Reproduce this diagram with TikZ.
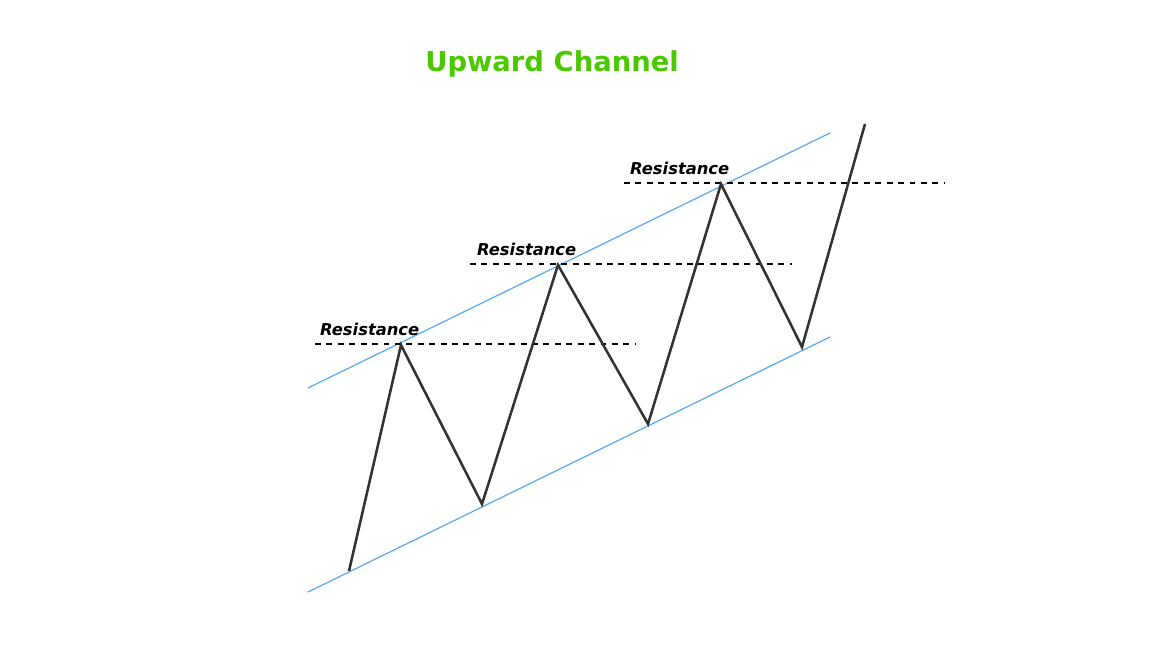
\documentclass[tikz,border=0pt]{standalone}
\usepackage{fontspec}
\setmainfont{DejaVu Sans}
\usepackage{tikz}
\definecolor{titlegreen}{HTML}{4BC800}
\definecolor{chanblue}{HTML}{5AAAEE}
\definecolor{pricegray}{HTML}{333333}
\tikzset{chan/.style={chanblue,line width=0.7pt},
  price/.style={pricegray,line width=1.45pt,line join=miter},
  resline/.style={black,line width=0.6pt,dash pattern=on 3.4pt off 3.1pt},
  reslabel/.style={anchor=south west,inner sep=1pt,font=\fontsize{9.3}{11}\selectfont\bfseries\itshape}}

\begin{document}
\begin{tikzpicture}[x=0.02cm,y=-0.02cm]
\useasboundingbox (0,0) rectangle (1150,651);
\node (title) at (552,64) {\fontsize{15.6}{18}\selectfont\bfseries\color{titlegreen}Upward Channel};
% channel
\coordinate (u1) at (308,388); \coordinate (u2) at (830,133);
\coordinate (l1) at (308,592); \coordinate (l2) at (830,337);
\draw[chan] (u1) -- (u2);
\draw[chan] (l1) -- (l2);
% resistance levels
\coordinate (r1a) at (315,344); \coordinate (r1b) at (636,344);
\coordinate (r2a) at (470,264); \coordinate (r2b) at (792,264);
\coordinate (r3a) at (624,183); \coordinate (r3b) at (945,183);
\draw[resline] (r1a) -- (r1b);
\draw[resline] (r2a) -- (r2b);
\draw[resline] (r3a) -- (r3b);
\node[reslabel] (res1) at (318,338) {Resistance};
\node[reslabel] (res2) at (475,258) {Resistance};
\node[reslabel] (res3) at (628,177) {Resistance};
% price
\coordinate (p0) at (349,571);
\coordinate (p1) at (401,345);
\coordinate (p2) at (482,504);
\coordinate (p3) at (558,265);
\coordinate (p4) at (648,424);
\coordinate (p5) at (721,184);
\coordinate (p6) at (802,347);
\coordinate (p7) at (865,124);
\draw[price] (p0) -- (p1) -- (p2) -- (p3) -- (p4) -- (p5) -- (p6) -- (p7);
\end{tikzpicture}
\end{document}
